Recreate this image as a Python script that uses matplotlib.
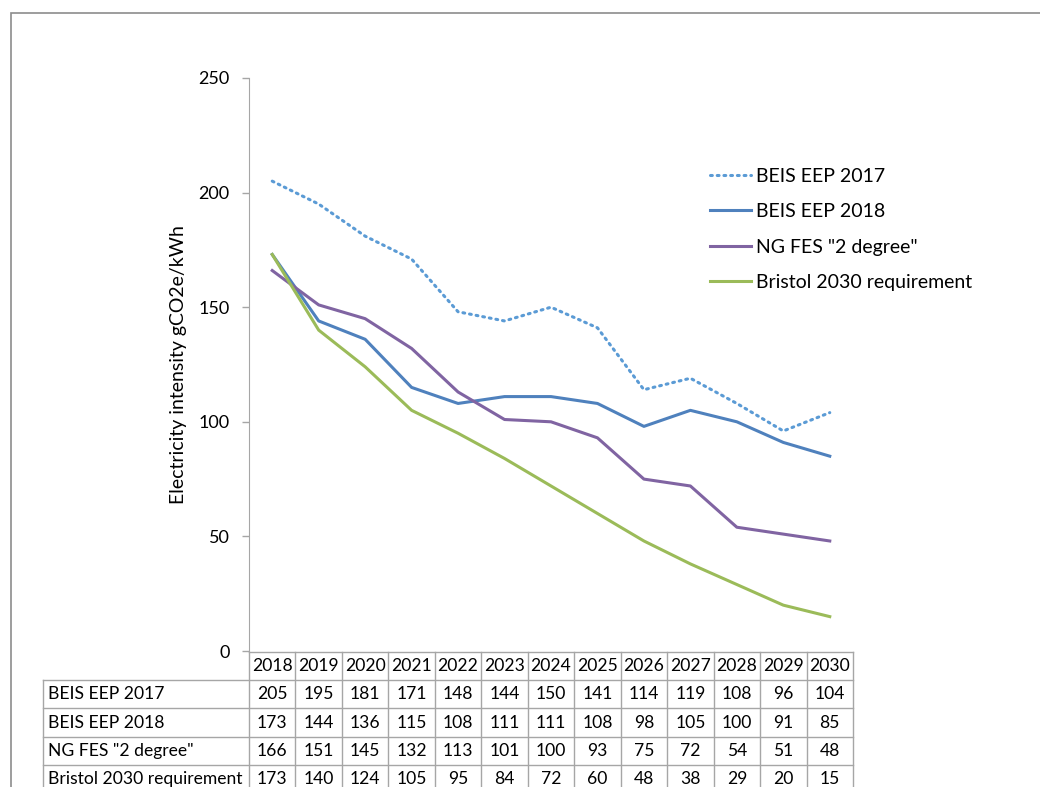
import numpy as np
import matplotlib.pyplot as plt
from matplotlib.patches import Rectangle

# ──────────────────────────────────────────────
# Data (gCO2e/kWh)
# ──────────────────────────────────────────────
YEARS        = [2018, 2019, 2020, 2021, 2022, 2023, 2024, 2025, 2026, 2027, 2028, 2029, 2030]
BEIS_2017    = [205, 195, 181, 171, 148, 144, 150, 141, 114, 119, 108, 96, 104]
BEIS_2018    = [173, 144, 136, 115, 108, 111, 111, 108, 98, 105, 100, 91, 85]
NG_FES       = [166, 151, 145, 132, 113, 101, 100, 93, 75, 72, 54, 51, 48]
BRISTOL_2030 = [173, 140, 124, 105, 95, 84, 72, 60, 48, 38, 29, 20, 15]
SERIES_NAMES = ["BEIS EEP 2017", "BEIS EEP 2018", 'NG FES "2 degree"', "Bristol 2030 requirement"]
Y_TICKS      = [0, 50, 100, 150, 200, 250]

# ──────────────────────────────────────────────
# Layout (pixels of a 1040x787 canvas)
# ──────────────────────────────────────────────
W, H = 1040, 787
AX_L, AX_R, AX_T, AX_B = 249, 853, 78, 651
TAB_L, TAB_T, ROW_H = 43, 652, 28.2
GRID = "#a6a6a6"

plt.rcParams["font.family"] = ["Lato", "DejaVu Sans"]

fig = plt.figure(figsize=(W / 100, H / 100), dpi=100)

# outer chart border
fig.patches.append(Rectangle((11 / W, -0.05), 1.1, (H - 13) / H + 0.05,
                             transform=fig.transFigure, fill=False,
                             edgecolor="#8c8c8c", linewidth=1.2))

ax = fig.add_axes([AX_L / W, (H - AX_B) / H, (AX_R - AX_L) / W, (AX_B - AX_T) / H])
x = np.arange(len(YEARS))

ax.plot(x, BEIS_2017, color="#5b9bd5", lw=2.2, linestyle=(0, (0.6, 1.6)),
        dash_capstyle="round", label=SERIES_NAMES[0])
ax.plot(x, BEIS_2018, color="#4f81bd", lw=2.2, label=SERIES_NAMES[1])
ax.plot(x, NG_FES, color="#8064a2", lw=2.2, label=SERIES_NAMES[2])
ax.plot(x, BRISTOL_2030, color="#9bbb59", lw=2.2, label=SERIES_NAMES[3])

ax.set_xlim(-0.5, len(YEARS) - 0.5)
ax.set_ylim(0, 250)
ax.set_yticks(Y_TICKS)
ax.set_xticks([])
for s in ["top", "right", "bottom"]:
    ax.spines[s].set_visible(False)
ax.spines["left"].set_color(GRID)
ax.tick_params(axis="y", colors=GRID, length=5, width=1, labelsize=13, labelcolor="black", pad=9)
ax.set_ylabel("Electricity intensity gCO2e/kWh", fontsize=14, labelpad=8)

leg = ax.legend(loc="upper left", bbox_to_anchor=((702 - AX_L) / (AX_R - AX_L), (AX_B - 160) / (AX_B - AX_T)),
                frameon=False, fontsize=14, handlelength=2.1, handletextpad=0.3,
                labelspacing=0.95, borderaxespad=0)

# ──────────────────────────────────────────────
# Data table under the chart
# ──────────────────────────────────────────────
col_w = (AX_R - AX_L) / len(YEARS)
label_w = (AX_L - TAB_L) / col_w
n_rows = len(SERIES_NAMES) + 1
tab_h = n_rows * ROW_H
tax = fig.add_axes([TAB_L / W, (H - TAB_T - tab_h) / H, (AX_R - TAB_L) / W, tab_h / H])
tax.set_xlim(-0.5 - label_w, len(YEARS) - 0.5)
tax.set_ylim(n_rows, 0)
tax.axis("off")

x0, x1 = -0.5, len(YEARS) - 0.5
xl = -0.5 - label_w
# horizontal lines
tax.plot([x0, x1], [0, 0], color=GRID, lw=1, clip_on=False)
for r in range(1, n_rows + 1):
    tax.plot([xl, x1], [r, r], color=GRID, lw=1, clip_on=False)
# vertical lines
for c in range(len(YEARS) + 1):
    tax.plot([c - 0.5, c - 0.5], [0, n_rows], color=GRID, lw=1, clip_on=False)
tax.plot([xl, xl], [1, n_rows], color=GRID, lw=1, clip_on=False)

for i, yr in enumerate(YEARS):
    tax.text(i, 0.5, str(yr), ha="center", va="center", fontsize=12.6)
rows = [BEIS_2017, BEIS_2018, NG_FES, BRISTOL_2030]
for r, (name, vals) in enumerate(zip(SERIES_NAMES, rows), start=1):
    tax.text(xl + 0.1, r + 0.5, name, ha="left", va="center", fontsize=12.6)
    for i, v in enumerate(vals):
        tax.text(i, r + 0.5, str(v), ha="center", va="center", fontsize=12.6)

fig.savefig("out.png", dpi=100)
